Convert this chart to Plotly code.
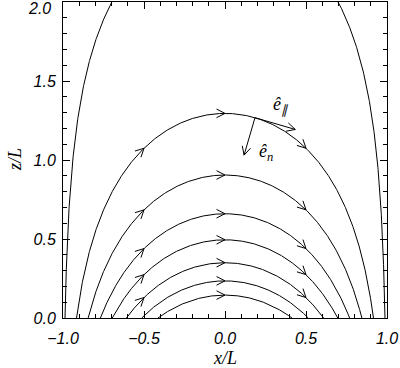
import numpy as np
import plotly.graph_objects as go

# ---- data ----
apex_heights = [0.145, 0.235, 0.35, 0.495, 0.66, 0.905, 1.295, 2.50]  # z/L at x=0 of each field line
arrow_x = [-0.5, 0.0, 0.5]          # x/L where direction arrows sit
basis_x = 0.185                     # x/L of the basis-vector origin on the 7th line
basis_line = 6                      # index of that field line
x_ticks = [-1.0, -0.5, 0.0, 0.5, 1.0]
x_tick_text = ["\u22121.0", "\u22120.5", "0.0", "0.5", "1.0"]
y_ticks = [0.0, 0.5, 1.0, 1.5, 2.0]
y_tick_text = ["0.0", "0.5", "1.0", "1.5", "2.0"]

# ---- layout geometry ----
W, H = 400, 368
ML, MR, MT, MB = 63, 13, 2, 50
PW, PH = W - ML - MR, H - MT - MB
XR, YR = (-1.0, 1.0), (0.0, 2.0)
sx = PW / (XR[1] - XR[0])
sz = PH / (YR[1] - YR[0])

k = np.pi / 2


def line_const(zt):
    return np.exp(-k * zt)


def z_of(c, x):
    return -np.log(c / np.cos(k * x)) / k


def slope(x):
    return -np.tan(k * x)


def head(xt, zt, dx_px, dy_px, L=9.5, ang=np.deg2rad(27)):
    """open V arrowhead at tip (xt,zt), direction given in screen px (y down)."""
    n = np.hypot(dx_px, dy_px)
    ux, uy = dx_px / n, dy_px / n
    xs, zs = [], []
    for s in (1, -1):
        ca, sa = np.cos(s * ang), np.sin(s * ang)
        bx = -(ux * ca - uy * sa) * L
        by = -(ux * sa + uy * ca) * L
        xs += [xt + bx / sx, xt, None]
        zs += [zt - by / sz, zt, None]
    return xs, zs


fig = go.Figure()

lx, lz = [], []
hx, hz = [], []
for zt in apex_heights:
    c = line_const(zt)
    x0 = np.arccos(c) / k
    th = np.linspace(-np.pi / 2, np.pi / 2, 801)
    xx = x0 * np.sin(th)
    zz = z_of(c, xx * 0.999999)
    zz = np.clip(zz, 0, None)
    lx += list(xx) + [None]
    lz += list(zz) + [None]
    for xa in arrow_x:
        if abs(xa) >= x0:
            continue
        za = z_of(c, xa)
        if za < 0.05 or za > 1.95:
            continue
        a, b = head(xa, za, sx, -slope(xa) * sz)
        hx += a
        hz += b

fig.add_trace(go.Scatter(x=lx, y=lz, mode="lines", line=dict(color="black", width=1),
                         hoverinfo="skip", showlegend=False))
fig.add_trace(go.Scatter(x=hx, y=hz, mode="lines", line=dict(color="black", width=1),
                         hoverinfo="skip", showlegend=False))

# basis vectors
c = line_const(apex_heights[basis_line])
xb = basis_x
zb = z_of(c, xb)
tx, ty = sx, -slope(xb) * sz
tn = np.hypot(tx, ty)
tx, ty = tx / tn, ty / tn
nx, ny = -ty, tx
vx, vz = [], []
for (ux, uy, L) in ((tx, ty, 42.0), (nx, ny, 39.0)):
    xe = xb + ux * L / sx
    ze = zb - uy * L / sz
    vx += [xb, xe, None]
    vz += [zb, ze, None]
    a, b = head(xe, ze, ux, uy)
    vx += a
    vz += b
fig.add_trace(go.Scatter(x=vx, y=vz, mode="lines", line=dict(color="black", width=1),
                         hoverinfo="skip", showlegend=False))

lab_font = dict(family="Liberation Serif", size=18, color="black", style="italic")
fig.add_annotation(x=xb + 0.16, y=zb + 0.08, text="ê<sub>\u2225</sub>", showarrow=False,
                   font=lab_font, xanchor="center", yanchor="middle")
fig.add_annotation(x=xb + 0.07, y=zb - 0.22, text="ê<sub>n</sub>", showarrow=False,
                   font=lab_font, xanchor="center", yanchor="middle")

tick_font = dict(family="Liberation Sans", size=16, color="black", style="italic")
title_font = dict(family="Liberation Serif", size=18, color="black", style="italic")
axis_common = dict(showgrid=False, zeroline=False, showline=True, linecolor="black", linewidth=1,
                   mirror="ticks", ticks="inside", ticklen=7, tickwidth=1, tickcolor="black",
                   tickfont=tick_font, automargin=False, ticklabeloverflow="allow",
                   minor=dict(ticks="inside", ticklen=4, dtick=0.1, tickcolor="black", tickwidth=1))

fig.update_xaxes(range=list(XR), tickvals=x_ticks, ticktext=x_tick_text, ticklabelstandoff=6,
                 **axis_common)
# top y label would be clipped by the page edge: draw it as an annotation just below its tick
fig.update_yaxes(range=list(YR), tickvals=y_ticks, ticktext=y_tick_text[:-1] + [""],
                 ticklabelstandoff=3, **axis_common)
fig.add_annotation(x=0, xref="paper", y=y_ticks[-1], yref="y", xshift=-10, yshift=-6,
                   text=y_tick_text[-1], showarrow=False, font=tick_font,
                   xanchor="right", yanchor="middle")

# axis titles
fig.add_annotation(xref="paper", yref="paper", x=0.5, y=0, yshift=-40, text="x/L",
                   showarrow=False, font=title_font, xanchor="center", yanchor="middle")
fig.add_annotation(xref="paper", yref="paper", x=0, y=0.5, xshift=-48, text="z/L", textangle=-90,
                   showarrow=False, font=title_font, xanchor="center", yanchor="middle")

fig.update_layout(width=W, height=H, margin=dict(l=ML, r=MR, t=MT, b=MB),
                  paper_bgcolor="white", plot_bgcolor="white", showlegend=False)

fig.write_html("out.html", config={"displayModeBar": False},
               post_script="document.body.style.margin='0px';document.body.style.padding='0px';")
